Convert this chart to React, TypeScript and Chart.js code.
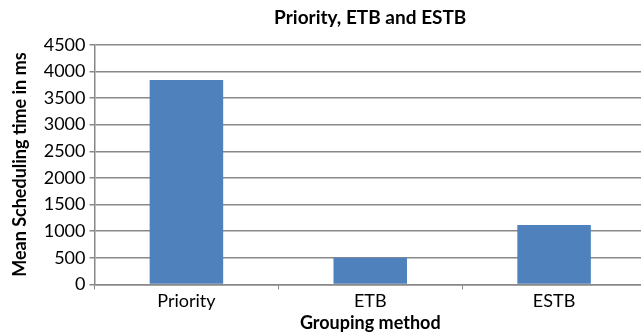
import React, { useEffect, useRef } from "react";
import { Chart, registerables } from "chart.js";

Chart.register(...registerables);

const categories = ["Priority", "ETB", "ESTB"];
const meanTimes = [3837, 500, 1115];
const yTicks = [0, 500, 1000, 1500, 2000, 2500, 3000, 3500, 4000, 4500];
const chartTitle = "Priority, ETB and ESTB";

const FONT = "Lato, 'Open Sans', sans-serif";
const GRID = "#888888";

const titlePlugin = {
  id: "plotTitle",
  afterDraw(chart: any) {
    const { ctx, chartArea } = chart;
    ctx.save();
    ctx.font = `bold 19px ${FONT}`;
    ctx.fillStyle = "#000";
    ctx.textAlign = "center";
    ctx.textBaseline = "middle";
    ctx.fillText(chartTitle, (chartArea.left + chartArea.right) / 2, 18);
    ctx.restore();
  },
};

export default function App() {
  const ref = useRef<HTMLCanvasElement>(null);
  useEffect(() => {
    if (!ref.current) return;
    const chart = new Chart(ref.current, {
      type: "bar",
      data: {
        labels: categories,
        datasets: [
          {
            data: meanTimes,
            backgroundColor: "#4F81BD",
            borderWidth: 0,
            barPercentage: 0.4,
            categoryPercentage: 1,
          },
        ],
      },
      plugins: [titlePlugin],
      options: {
        animation: false,
        responsive: false,
        maintainAspectRatio: false,
        layout: { padding: { top: 44.7, right: 4, bottom: 0, left: 0 } },
        plugins: {
          legend: { display: false },
          tooltip: { enabled: false },
          title: { display: false },
        },
        scales: {
          x: {
            grid: {
              display: true,
              drawOnChartArea: false,
              drawTicks: true,
              tickLength: 5,
              color: GRID,
            },
            border: { display: true, color: GRID, width: 1.5 },
            ticks: { color: "#000", font: { family: FONT, size: 18 }, padding: 1 },
            title: {
              display: true,
              text: "Grouping method",
              color: "#000",
              font: { family: FONT, size: 18, weight: "bold", lineHeight: 1.2 },
              padding: { top: 0, bottom: 1 },
            },
            afterFit: (s: any) => {
              s.height = 50.5;
            },
          },
          y: {
            min: 0,
            max: 4500,
            afterBuildTicks: (s: any) => {
              s.ticks = yTicks.map((v) => ({ value: v }));
            },
            grid: { color: GRID, lineWidth: 1.5, tickLength: 5 },
            border: { display: true, color: GRID, width: 1.5 },
            ticks: {
              color: "#000",
              font: { family: FONT, size: 18 },
              padding: 4,
              callback: (v: any) => String(v),
            },
            title: {
              display: true,
              text: "Mean Scheduling time in ms",
              color: "#000",
              font: { family: FONT, size: 18, weight: "bold", lineHeight: 1.2 },
              padding: { top: 9, bottom: 0 },
            },
            afterFit: (s: any) => {
              s.width = 94.5;
            },
          },
        },
      },
    });
    return () => chart.destroy();
  }, []);
  return (
    <div style={{ position: "absolute", left: 0, top: 0, width: 641, height: 335, overflow: "hidden", background: "#fff" }}>
      <canvas ref={ref} width={650} height={335} style={{ display: "block", width: 650, height: 335 }} />
    </div>
  );
}
